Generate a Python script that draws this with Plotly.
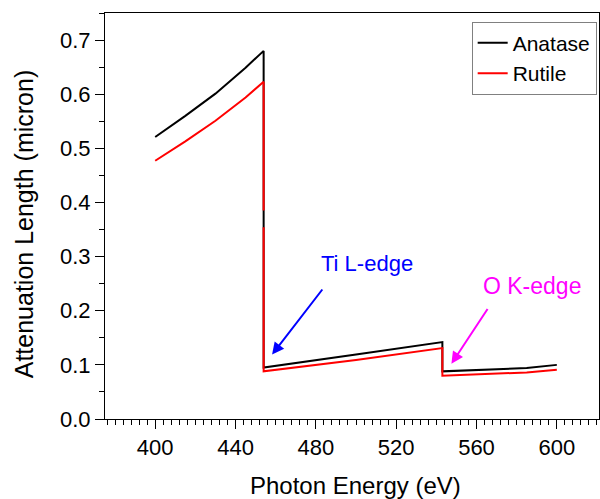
import plotly.graph_objects as go

# Anatase (black)
anatase_energy = [400, 415, 430, 445, 454, 454, 500, 543, 543, 585, 600]
anatase_length = [0.521, 0.560, 0.601, 0.649, 0.680, 0.095, 0.119, 0.142, 0.088, 0.094, 0.100]

# Rutile (red) - small gap in the vertical drop where the black line shows through
rutile_energy = [400, 415, 430, 445, 454, 454, None, 454, 454, 500, 543, 543, 585, 600]
rutile_length = [0.477, 0.513, 0.551, 0.594, 0.623, 0.385, None, 0.354, 0.088, 0.109, 0.131, 0.080, 0.086, 0.091]

x_ticks = [400, 440, 480, 520, 560, 600]
y_ticks = [0.0, 0.1, 0.2, 0.3, 0.4, 0.5, 0.6, 0.7]

FONT = "Liberation Sans, Arial, sans-serif"

fig = go.Figure()
fig.add_trace(go.Scatter(x=anatase_energy, y=anatase_length, mode="lines",
                         name="Anatase", line=dict(color="#000000", width=2)))
fig.add_trace(go.Scatter(x=rutile_energy, y=rutile_length, mode="lines",
                         name="Rutile", line=dict(color="#FF0000", width=2)))

axis_common = dict(showline=True, linecolor="black", linewidth=1, mirror=True,
                   showgrid=False, zeroline=False, ticks="outside", tickwidth=1,
                   tickcolor="black", ticklen=9,
                   tickfont=dict(family=FONT, size=22, color="black"))

fig.update_xaxes(range=[375, 621], tickvals=x_ticks,
                 minor=dict(dtick=4, tick0=400, ticks="outside", ticklen=5, tickcolor="black"),
                 **axis_common)
fig.update_yaxes(range=[0, 0.75], tickvals=y_ticks, tickformat=".1f",
                 minor=dict(dtick=0.05, tick0=0, ticks="outside", ticklen=5, tickcolor="black"),
                 **axis_common)

fig.add_annotation(text="Photon Energy (eV)", xref="paper", yref="paper",
                   x=0.508, y=-0.165, xanchor="center", yanchor="middle", showarrow=False,
                   font=dict(family=FONT, size=24, color="black"))
fig.add_annotation(text="Attenuation Length (micron)", xref="paper", yref="paper",
                   x=-0.164, y=0.482, xanchor="center", yanchor="middle", showarrow=False,
                   textangle=-90, font=dict(family=FONT, size=25, color="black"))

# Edge labels with arrows
fig.add_annotation(text="Ti L-edge", x=505.3, y=0.287, xref="x", yref="y",
                   showarrow=False, font=dict(family=FONT, size=22, color="#0000FF"))
fig.add_annotation(text="", x=458.2, y=0.119, ax=483.8, ay=0.242, xref="x", yref="y",
                   axref="x", ayref="y", showarrow=True, arrowhead=2, arrowsize=1.2,
                   arrowwidth=2, arrowcolor="#0000FF")
fig.add_annotation(text="O K-edge", x=587.5, y=0.245, xref="x", yref="y",
                   showarrow=False, font=dict(family=FONT, size=23, color="#FF00FF"))
fig.add_annotation(text="", x=547.5, y=0.102, ax=566, ay=0.206, xref="x", yref="y",
                   axref="x", ayref="y", showarrow=True, arrowhead=2, arrowsize=1.2,
                   arrowwidth=2, arrowcolor="#FF00FF")

fig.update_layout(
    width=600, height=499,
    margin=dict(l=105, r=1, t=13, b=80),
    paper_bgcolor="white", plot_bgcolor="white",
    font=dict(family=FONT, color="black"),
    legend=dict(x=0.9953, y=0.9786, xanchor="right", yanchor="top",
                bgcolor="white", bordercolor="#808080", borderwidth=1,
                font=dict(family=FONT, size=21, color="black"),
                tracegroupgap=0),
)

fig.write_html("out.html")
